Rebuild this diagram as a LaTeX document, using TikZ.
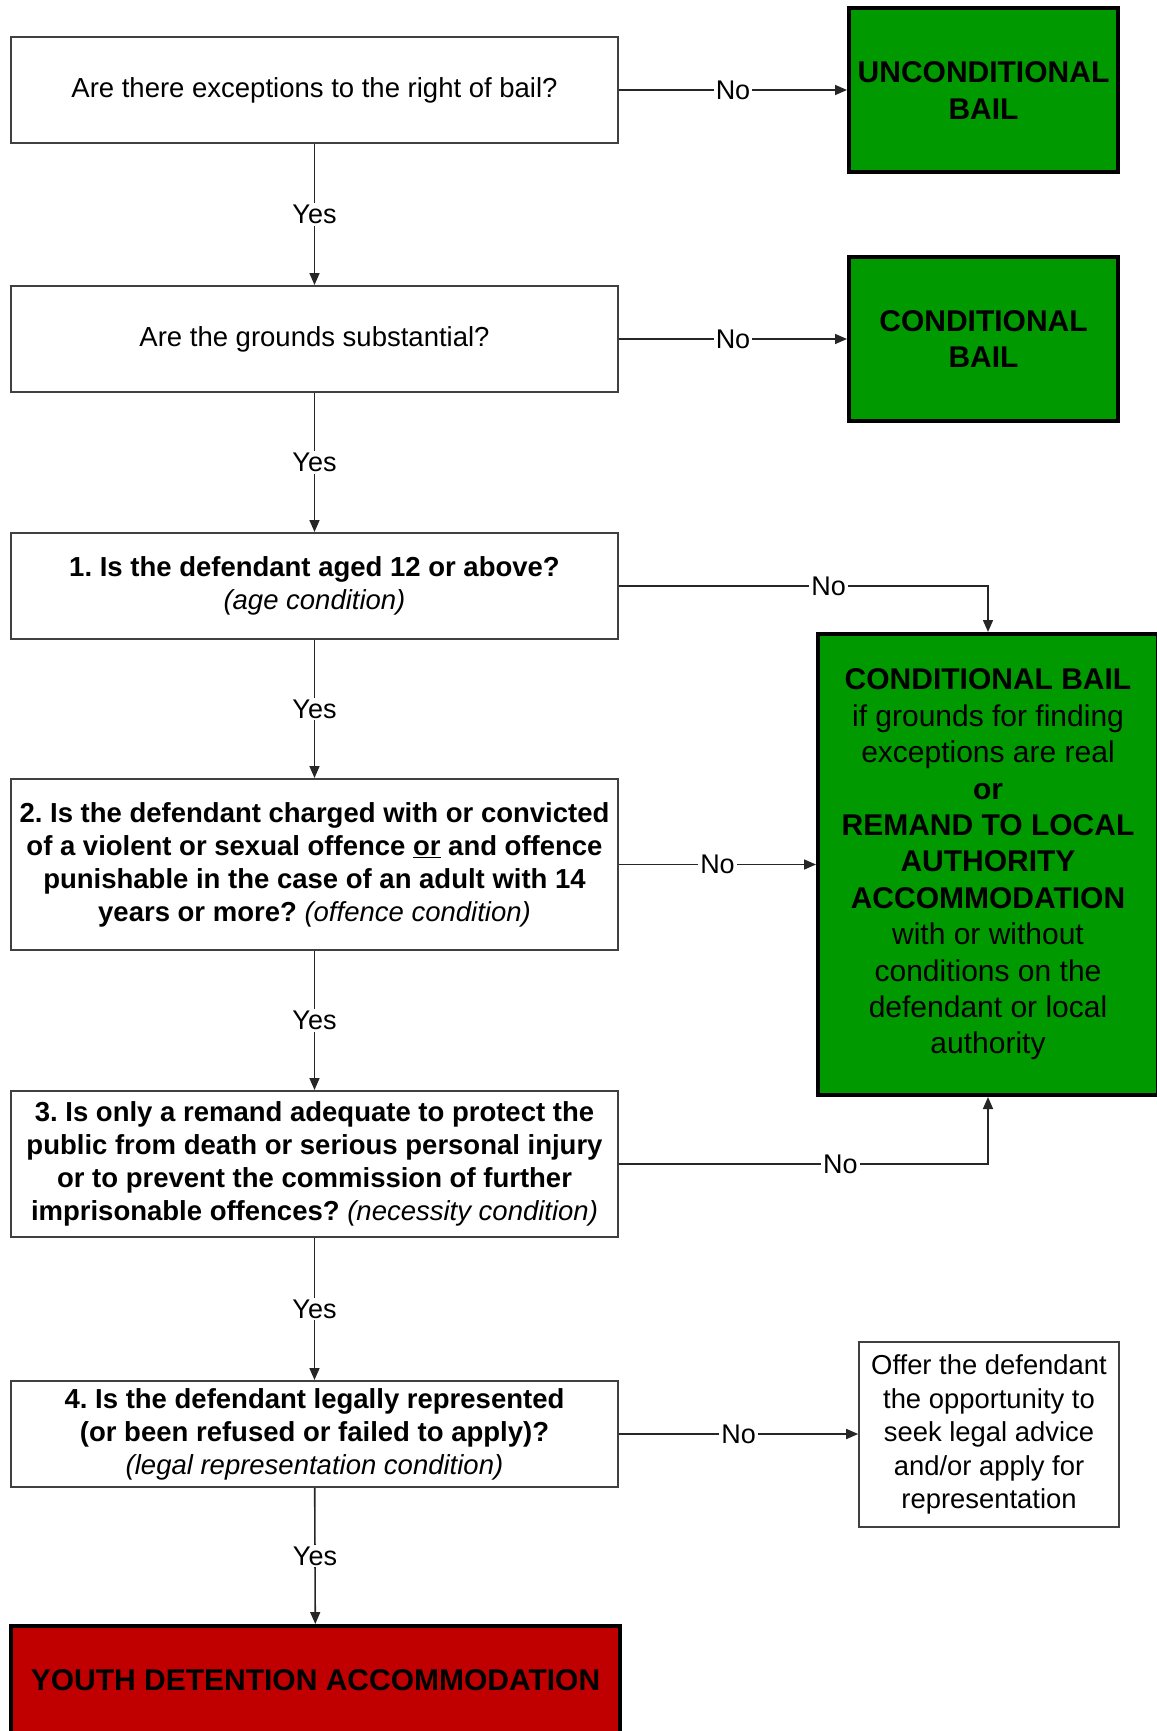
\documentclass[tikz,border=0pt]{standalone}
\usepackage{fontspec}
\setmainfont{Liberation Sans}
\frenchspacing
\usetikzlibrary{arrows.meta}
\definecolor{bailgreen}{RGB}{0,153,0}
\definecolor{detred}{RGB}{192,0,0}
\begin{document}
\begin{tikzpicture}[x=1pt,y=-1pt,
  qbox/.style={draw=black!75, line width=2pt, fill=white, minimum width=607pt, inner sep=0pt, align=center, font=\fontsize{27.5}{33}\selectfont},
  greenbox/.style={draw=black, line width=4pt, fill=bailgreen, inner sep=0pt, align=center, font=\fontsize{30}{36.4}\selectfont\bfseries},
  biggreen/.style={draw=black, line width=4pt, fill=bailgreen, inner sep=0pt, align=center, font=\fontsize{30}{36.4}\selectfont},
  offerbox/.style={draw=black!75, line width=1.6pt, fill=white, inner sep=0pt, align=center, font=\fontsize{27.4}{33.4}\selectfont},
  redbox/.style={draw=black, line width=4pt, fill=detred, inner sep=0pt, align=center, font=\fontsize{30}{36}\selectfont\bfseries},
  conn/.style={draw=black!85, line width=1.6pt, -{Triangle[length=12pt,width=10pt]}},
  lbl/.style={fill=white, inner sep=2pt, font=\fontsize{27}{32}\selectfont}]
\useasboundingbox (0,0) rectangle (1156,1731);

\node[qbox, minimum height=106pt] (a) at (314.5,90) {Are there exceptions to the right of bail?};
\node[greenbox, minimum width=269pt, minimum height=164pt] (ub) at (983.5,90.5) {UNCONDITIONAL\\BAIL};

\node[qbox, minimum height=106pt] (b) at (314.5,339) {Are the grounds substantial?};
\node[greenbox, minimum width=269pt, minimum height=164pt] (cb) at (983.5,339) {CONDITIONAL\\BAIL};

\node[qbox, minimum height=106pt] (q1) at (314.5,586) {\textbf{1. Is the defendant aged 12 or above?}\\\textit{(age condition)}};

\node[qbox, minimum height=171pt] (q2) at (314.5,864.5) {\textbf{2. Is the defendant charged with or convicted}\\\textbf{of a violent or sexual offence \underline{or} and offence}\\\textbf{punishable in the case of an adult with 14}\\\textbf{years or more?} \textit{(offence condition)}};

\node[biggreen, minimum width=340pt, minimum height=461pt] (big) at (988,864.5) {\textbf{CONDITIONAL BAIL}\\if grounds for finding\\exceptions are real\\\textbf{or}\\\textbf{REMAND TO LOCAL}\\\textbf{AUTHORITY}\\\textbf{ACCOMMODATION}\\with or without\\conditions on the\\defendant or local\\authority};

\node[qbox, minimum height=146pt] (q3) at (314.5,1164) {\textbf{3. Is only a remand adequate to protect the}\\\textbf{public from death or serious personal injury}\\\textbf{or to prevent the commission of further}\\\textbf{imprisonable offences?} \textit{(necessity condition)}};

\node[qbox, minimum height=106pt] (q4) at (314.5,1434) {\textbf{4. Is the defendant legally represented}\\\textbf{(or been refused or failed to apply)?}\\\textit{(legal representation condition)}};

\node[offerbox, minimum width=260pt, minimum height=185pt] (offer) at (989,1434.5) {Offer the defendant\\the opportunity to\\seek legal advice\\and/or apply for\\representation};

\node[redbox, minimum width=609pt, minimum height=109pt] (ydet) at (315.5,1680.5) {YOUTH DETENTION ACCOMMODATION};

\draw[conn] (a) -- node[lbl] {Yes} (b);
\draw[conn] (b) -- node[lbl] {Yes} (q1);
\draw[conn] (q1) -- node[lbl] {Yes} (q2);
\draw[conn] (q2) -- node[lbl] {Yes} (q3);
\draw[conn] (q3) -- node[lbl] {Yes} (q4);
\draw[conn] (q4) -- node[lbl] {Yes} (ydet);

\draw[conn] (a.east) -- node[lbl] {No} (ub.west |- a.east);
\draw[conn] (b.east) -- node[lbl] {No} (cb.west |- b.east);
\draw[conn] (q1.east) -| node[lbl, pos=0.284] {No} (big.north);
\draw[conn] (q2.east) -- node[lbl] {No} (big.west |- q2.east);
\draw[conn] (q3.east) -| node[lbl, pos=0.30] {No} (big.south);
\draw[conn] (q4.east) -- node[lbl] {No} (offer.west |- q4.east);
\end{tikzpicture}
\end{document}
